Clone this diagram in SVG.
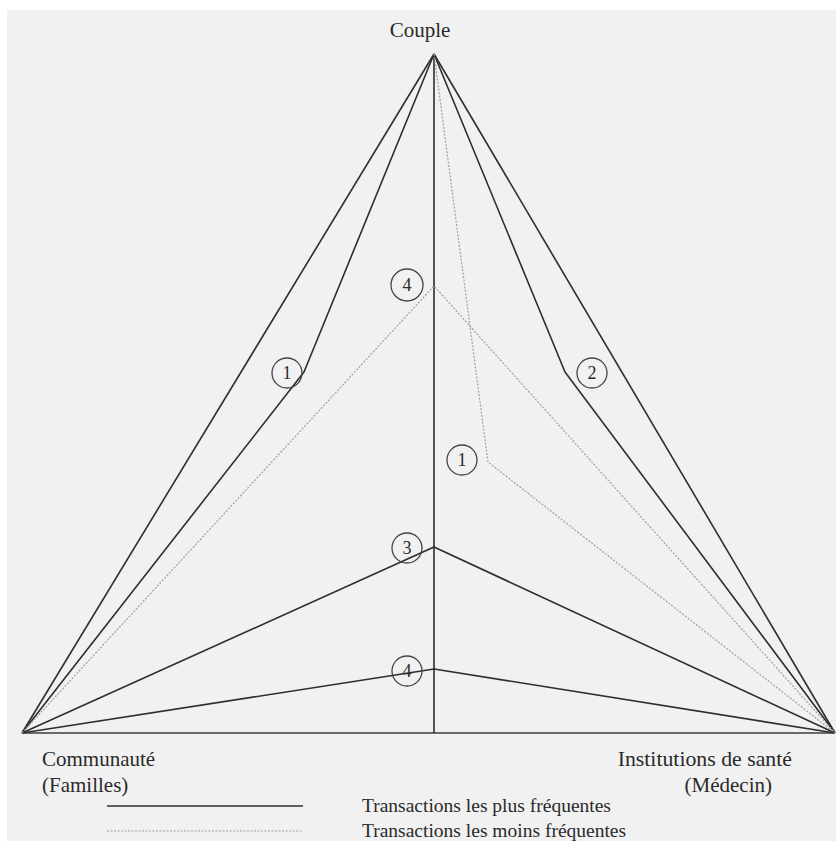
<svg xmlns="http://www.w3.org/2000/svg" width="836" height="841" viewBox="0 0 836 841">
  <style>
    .solid { fill: none; stroke: #2e2e2e; stroke-width: 1.6; stroke-linejoin: round; }
    .grey { fill: none; stroke: #a0a0a0; stroke-width: 1.2; stroke-dasharray: 2 1.5; stroke-linejoin: round; }
    .base { fill: none; stroke: #6a6a6a; stroke-width: 2; }
    .ring { fill: none; stroke: #444; stroke-width: 1.3; }
    .lbl { font-size: 21px; fill: #2a2a2a; }
    .leg { font-size: 19.5px; fill: #2a2a2a; }
    .num { font-size: 18px; text-anchor: middle; fill: #2a2a2a; }
  </style>
  <rect x="0" y="0" width="836" height="841" fill="#ffffff"/>
  <rect x="7" y="10" width="829" height="831" fill="#f1f1f1"/>

  <g id="connectors">
    <line class="base" x1="22" y1="733" x2="835" y2="733"/>
    <line class="solid" x1="434" y1="54" x2="434" y2="733"/>
    <line class="solid" x1="434" y1="54" x2="22" y2="733"/>
    <line class="solid" x1="434" y1="54" x2="835" y2="733"/>
    <polyline class="solid" points="434,54 304,372 22,733"/>
    <polyline class="solid" points="434,54 565,372 835,733"/>
    <polyline class="solid" points="22,733 434,547 835,733"/>
    <polyline class="solid" points="22,733 434,669 835,733"/>
    <polyline class="grey" points="22,733 434,286 835,733"/>
    <polyline class="grey" points="434,54 488,462 835,733"/>
  </g>

  <g font-family="Liberation Serif, Times New Roman, serif">
  <g id="node-couple">
    <text class="lbl" x="420" y="37" text-anchor="middle">Couple</text>
  </g>
  <g id="node-communaute">
    <text class="lbl" x="42" y="766">Communauté</text>
    <text class="lbl" x="42" y="792">(Familles)</text>
  </g>
  <g id="node-institutions">
    <text class="lbl" x="792" y="766" text-anchor="end" style="font-size:21.8px">Institutions de santé</text>
    <text class="lbl" x="772" y="792" text-anchor="end">(Médecin)</text>
  </g>

  <g id="label-1-left">
    <circle class="ring" cx="287" cy="373" r="15"/>
    <text class="num" x="287" y="379">1</text>
  </g>
  <g id="label-4-top">
    <circle class="ring" cx="407" cy="285" r="16"/>
    <text class="num" x="407" y="291">4</text>
  </g>
  <g id="label-1-mid">
    <circle class="ring" cx="462" cy="460" r="15"/>
    <text class="num" x="462" y="466">1</text>
  </g>
  <g id="label-2">
    <circle class="ring" cx="592" cy="373" r="15"/>
    <text class="num" x="592" y="379">2</text>
  </g>
  <g id="label-3">
    <circle class="ring" cx="407" cy="548" r="15"/>
    <text class="num" x="407" y="554">3</text>
  </g>
  <g id="label-4-bottom">
    <circle class="ring" cx="407" cy="671" r="15"/>
    <text class="num" x="407" y="677">4</text>
  </g>

  <g id="legend">
    <line class="solid" x1="107" y1="806" x2="303" y2="806"/>
    <line class="grey" x1="107" y1="831" x2="303" y2="831"/>
    <text class="leg" x="362" y="812">Transactions les plus fréquentes</text>
    <text class="leg" x="362" y="837">Transactions les moins fréquentes</text>
  </g>
  </g>
</svg>
